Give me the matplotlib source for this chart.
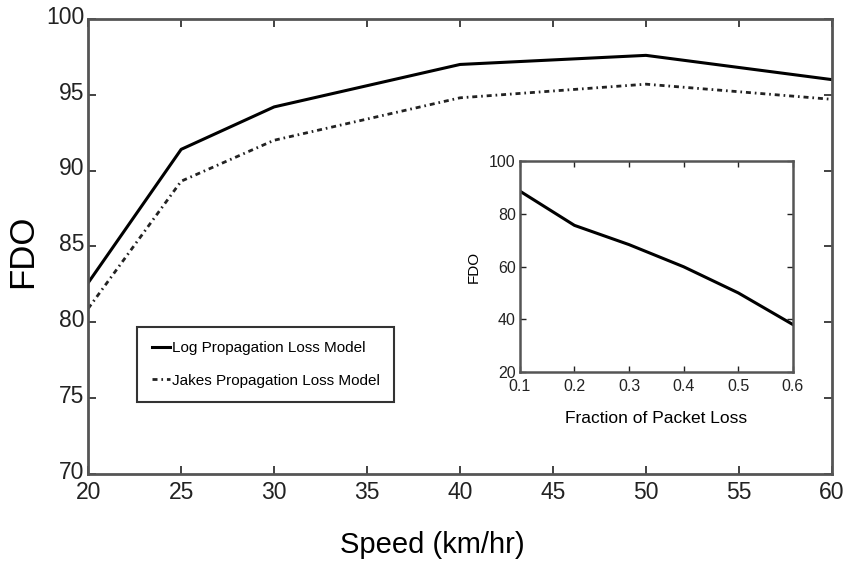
import matplotlib.pyplot as plt
from matplotlib.transforms import ScaledTranslation

# --- data ---
speed = [20, 25, 30, 40, 50, 60]
fdo_log = [82.6, 91.4, 94.2, 97.0, 97.6, 96.0]
fdo_jakes = [80.9, 89.3, 92.0, 94.8, 95.7, 94.7]

loss_frac = [0.1, 0.2, 0.3, 0.4, 0.5, 0.6]
fdo_loss = [88.6, 75.6, 68.3, 59.9, 50.0, 38.0]

plt.rcParams['font.family'] = ['Liberation Sans', 'DejaVu Sans']

fig = plt.figure(figsize=(8.48, 5.75), dpi=100)
ax = fig.add_axes([0.104, 0.176, 0.877, 0.791])

ax.plot(speed, fdo_log, color='black', linewidth=2.2, label='Log Propagation Loss Model')
ax.plot(speed, fdo_jakes, color='#222222', linewidth=2.0, dashes=(1.8, 1.4, 0.6, 1.4),
        label='Jakes Propagation Loss Model')

ax.set_xlim(20, 60)
ax.set_ylim(70, 100)
ax.set_xticks(range(20, 61, 5))
ax.set_yticks(range(70, 101, 5))
ax.tick_params(direction='in', top=True, right=True, length=6, width=1.2,
               labelsize=16.5, colors='#222222')
ax.tick_params(axis='x', pad=5)
ax.tick_params(axis='y', pad=3)
for sp in ax.spines.values():
    sp.set_linewidth(2.0)
    sp.set_color('#555555')

# y tick labels sit a little high, like the original
up = ScaledTranslation(0, 3 / 72, fig.dpi_scale_trans)
for lbl in ax.get_yticklabels():
    lbl.set_transform(lbl.get_transform() + up)

ax.set_xlabel('Speed (km/hr)', fontsize=21)
ax.xaxis.set_label_coords(0.463, -0.125)
ax.set_ylabel('FDO', fontsize=25)
ax.yaxis.set_label_coords(-0.066, 0.49)

leg = ax.legend(loc='upper left', bbox_to_anchor=(0.066, 0.323), fontsize=11,
                handlelength=1.2, handletextpad=0.1, borderpad=0.95, labelspacing=1.2,
                fancybox=False, framealpha=1, borderaxespad=0)
leg.get_frame().set_edgecolor('#333333')
leg.get_frame().set_linewidth(1.5)

# --- inset: FDO vs fraction of packet loss ---
ins = fig.add_axes([0.613, 0.353, 0.322, 0.367])
ins.plot(loss_frac, fdo_loss, color='black', linewidth=2.2)
ins.set_xlim(0.1, 0.6)
ins.set_ylim(20, 100)
ins.set_xticks(loss_frac)
ins.set_xticklabels(['0.1', '0.2', '0.3', '0.4', '0.5', '0.6'])
ins.set_yticks(range(20, 101, 20))
ins.tick_params(direction='in', top=True, right=True, length=4, width=1.0,
                labelsize=11.5, colors='#222222')
ins.tick_params(axis='x', pad=5)
ins.tick_params(axis='y', pad=3)
for sp in ins.spines.values():
    sp.set_linewidth(1.8)
    sp.set_color('#555555')
ins.set_xlabel('Fraction of Packet Loss', fontsize=12.5, labelpad=12)
ins.set_ylabel('FDO', fontsize=11, labelpad=6)

plt.savefig('out.png', dpi=100)
